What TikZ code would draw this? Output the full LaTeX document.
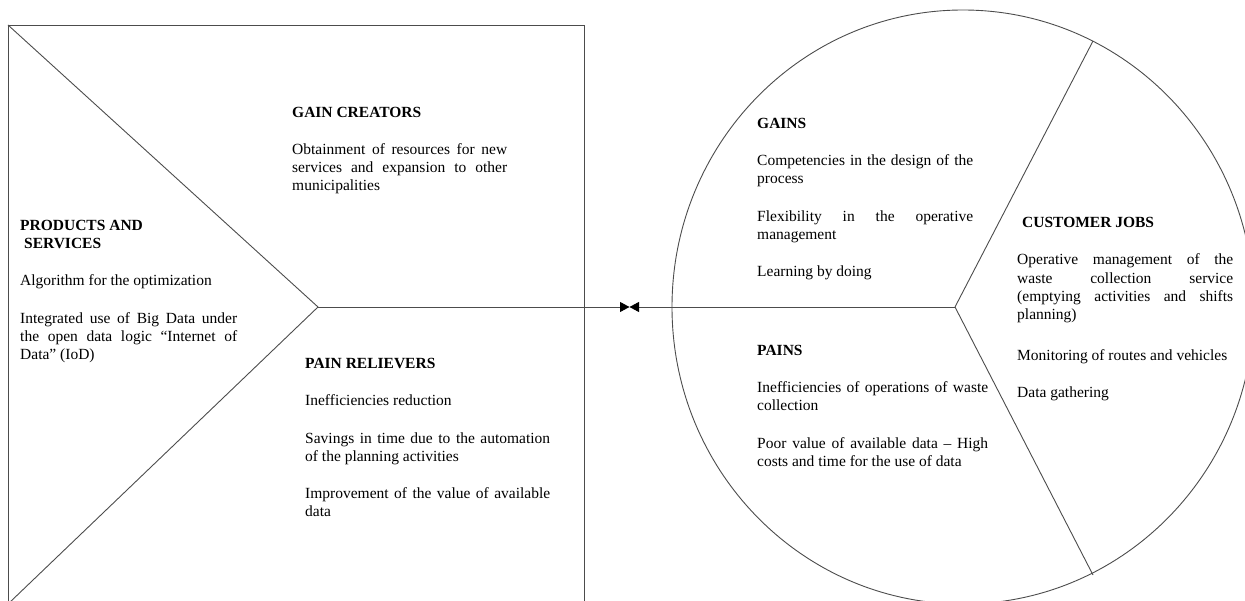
\documentclass[tikz,border=0pt]{standalone}
\usepackage{fontspec}
\setmainfont{Liberation Serif}
\usetikzlibrary{arrows.meta}

\tikzset{
  canvas line/.style={draw=black!70, line width=0.9pt},
  meet/.style={-{Triangle[length=9.5pt,width=10pt,color=black]}},
  vp block/.style={anchor=north west, inner sep=0pt, align=justify,
    font=\fontsize{15.5}{18}\selectfont}
}
\newcommand{\vpfmt}{\setlength{\parskip}{19.5pt}\hyphenpenalty=10000
  \exhyphenpenalty=10000\tolerance=10000\emergencystretch=20pt}

\begin{document}
\begin{tikzpicture}[x=1pt,y=1pt]
	\useasboundingbox (0,0) rectangle (1245,-601);
	\clip (0,0) rectangle (1245,-601);
	% value map (square)
	\coordinate (tl) at (8,-25);
	\coordinate (bl) at (8,-604);
	\coordinate (apex) at (318,-307);
	\draw [canvas line] (8,-604) rectangle (584,-25);
	\draw [canvas line] (tl) -- (apex) -- (bl);
	% customer profile (circle)
	\coordinate (ctr) at (963,-307);
	\coordinate (junc) at (955,-307);
	\coordinate (ctop) at (1093,-41);
	\coordinate (cbot) at (1093,-575);
	\draw [canvas line] (ctr) ellipse [x radius=291pt, y radius=297pt];
	\draw [canvas line] (ctop) -- (junc) -- (cbot);
	% fit
	\coordinate (tip) at (629.5,-307);
	\draw [canvas line, meet] (apex) -- (tip);
	\draw [canvas line, meet] (junc) -- (tip);
	% texts
	\node [vp block, text width=215pt] (gaincr) at (292,-106.7) {\vpfmt
		\textbf{GAIN CREATORS}\par
		Obtainment of resources for new\linebreak services and expansion to other\linebreak municipalities};
	\node [vp block, text width=217pt] (prodserv) at (20,-219.7) {\vpfmt
		\textbf{PRODUCTS AND}\\\hspace*{4pt}\textbf{SERVICES}\par
		Algorithm for the optimization\par
		Integrated use of Big Data under\linebreak the open data logic “Internet of\linebreak Data” (IoD)};
	\node [vp block, text width=245pt] (painrel) at (305,-357.7) {\vpfmt
		\textbf{PAIN RELIEVERS}\par
		Inefficiencies reduction\par
		Savings in time due to the automation\linebreak of the planning activities\par
		Improvement of the value of available\linebreak data};
	\node [vp block, text width=216pt] (gains) at (757,-117.7) {\vpfmt
		\textbf{GAINS}\par
		Competencies in the design of the\linebreak process\par
		Flexibility in the operative\linebreak management\par
		Learning by doing};
	\node [vp block, text width=231pt] (pains) at (757,-344.7) {\vpfmt
		\textbf{PAINS}\par
		Inefficiencies of operations of waste\linebreak collection\par
		Poor value of available data – High\linebreak costs and time for the use of data};
	\node [vp block, text width=216pt, font=\fontsize{15.5}{18.3}\selectfont] (custjobs) at (1017,-216.7) {\vpfmt
		\hspace*{5pt}\textbf{CUSTOMER JOBS}\par
		Operative management of the\linebreak waste collection service\linebreak (emptying activities and shifts\linebreak planning)\par\vspace{2.5pt}
		Monitoring of routes and vehicles\par
		Data gathering};
\end{tikzpicture}
\end{document}
